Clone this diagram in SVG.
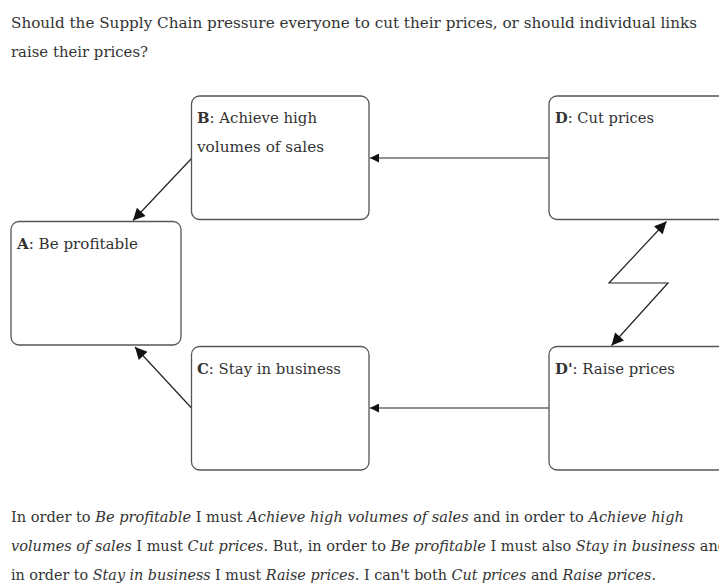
<svg xmlns="http://www.w3.org/2000/svg" width="719" height="586" viewBox="0 0 719 586">
<style>
text{font-family:"DejaVu Serif","Liberation Serif",serif;font-size:15px;fill:#333}
text.p{font-size:14.5px}
.b{font-weight:bold}
.i{font-style:italic}
.box{fill:#fff;stroke:#555;stroke-width:1.3}
.con{fill:none;stroke:#222;stroke-width:1.2}
</style>
<defs>
<marker id="ah" viewBox="0 0 10 10" refX="10" refY="5" markerWidth="10" markerHeight="9" markerUnits="userSpaceOnUse" orient="auto-start-reverse">
<path d="M0,0 L10,5 L0,10 Z" fill="#111"/>
</marker>
<marker id="ahL" viewBox="0 0 10 10" refX="10" refY="5" markerWidth="14" markerHeight="12" markerUnits="userSpaceOnUse" orient="auto-start-reverse">
<path d="M0,0 L10,5 L0,10 Z" fill="#111"/>
</marker>
</defs>
<rect width="719" height="586" fill="#fff"/>
<text x="11" y="28" textLength="686" lengthAdjust="spacingAndGlyphs">Should the Supply Chain pressure everyone to cut their prices, or should individual links</text>
<text x="11" y="57" textLength="137" lengthAdjust="spacingAndGlyphs">raise their prices?</text>

<g id="connectors">
<line class="con" x1="549" y1="158" x2="370" y2="158" marker-end="url(#ah)"/>
<line class="con" x1="191.5" y1="158.5" x2="133" y2="220.5" marker-end="url(#ahL)"/>
<line class="con" x1="191.5" y1="408" x2="135" y2="347" marker-end="url(#ahL)"/>
<line class="con" x1="549" y1="408" x2="370" y2="408" marker-end="url(#ah)"/>
<path class="con" d="M666.5,221.5 L609,283 L668,283 L611.5,345.5" marker-start="url(#ahL)" marker-end="url(#ahL)"/>
</g>

<g id="nodeB">
<rect class="box" x="191.5" y="96" width="177.5" height="123.5" rx="8"/>
<text x="197" y="123" textLength="120" lengthAdjust="spacingAndGlyphs"><tspan class="b">B</tspan>: Achieve high</text>
<text x="197" y="152" textLength="127" lengthAdjust="spacingAndGlyphs">volumes of sales</text>
</g>
<g id="nodeD">
<rect class="box" x="549" y="96" width="190" height="123.5" rx="8"/>
<text x="555" y="123" textLength="99" lengthAdjust="spacingAndGlyphs"><tspan class="b">D</tspan>: Cut prices</text>
</g>
<g id="nodeA">
<rect class="box" x="11" y="221.5" width="170" height="123.5" rx="8"/>
<text x="17" y="249" textLength="121" lengthAdjust="spacingAndGlyphs"><tspan class="b">A</tspan>: Be profitable</text>
</g>
<g id="nodeC">
<rect class="box" x="191.5" y="346.5" width="177.5" height="123.5" rx="8"/>
<text x="197" y="374" textLength="144" lengthAdjust="spacingAndGlyphs"><tspan class="b">C</tspan>: Stay in business</text>
</g>
<g id="nodeDp">
<rect class="box" x="549" y="346.5" width="190" height="123.5" rx="8"/>
<text x="555" y="374" textLength="120" lengthAdjust="spacingAndGlyphs"><tspan class="b">D'</tspan>: Raise prices</text>
</g>

<text class="p" x="11" y="522" textLength="673" lengthAdjust="spacingAndGlyphs">In order to <tspan class="i">Be profitable</tspan> I must <tspan class="i">Achieve high volumes of sales</tspan> and in order to <tspan class="i">Achieve high</tspan></text>
<text class="p" x="11" y="551" textLength="716" lengthAdjust="spacingAndGlyphs"><tspan class="i">volumes of sales</tspan> I must <tspan class="i">Cut prices</tspan>. But, in order to <tspan class="i">Be profitable</tspan> I must also <tspan class="i">Stay in business</tspan> and</text>
<text class="p" x="11" y="580" textLength="645" lengthAdjust="spacingAndGlyphs">in order to <tspan class="i">Stay in business</tspan> I must <tspan class="i">Raise prices</tspan>. I can't both <tspan class="i">Cut prices</tspan> and <tspan class="i">Raise prices</tspan>.</text>
</svg>
